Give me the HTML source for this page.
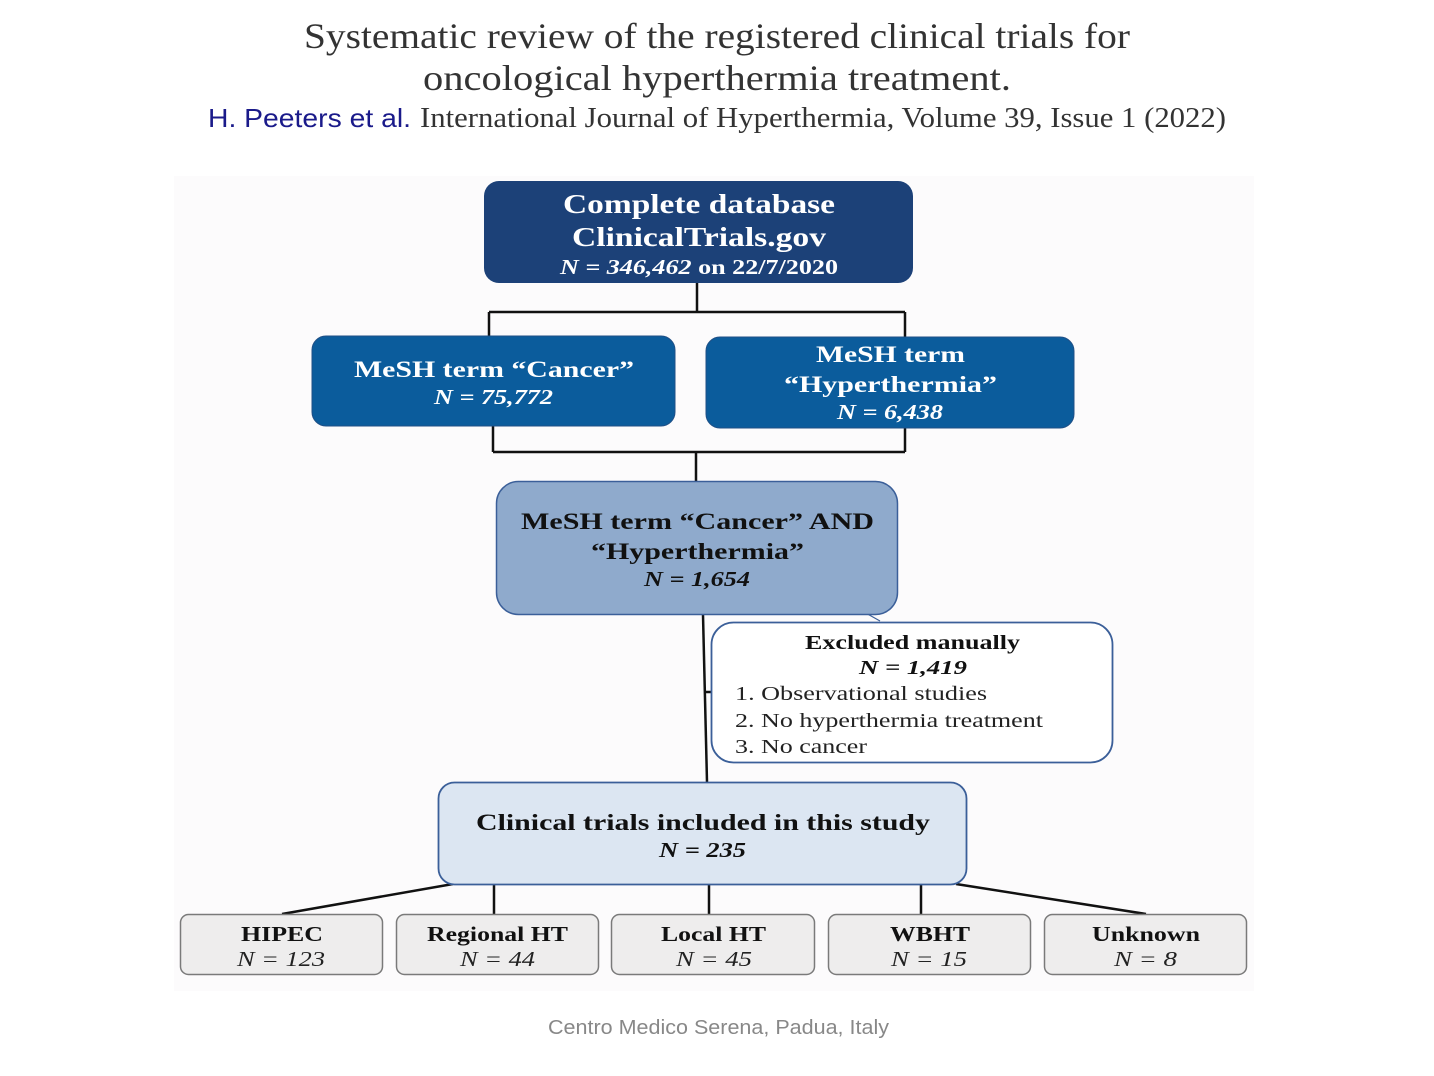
<!DOCTYPE html>
<html><head><meta charset="utf-8"><style>
html,body{margin:0;padding:0;background:#fff;}
svg{display:block;}
.t{font-family:"Liberation Serif",serif;}
.s{font-family:"Liberation Sans",sans-serif;}
</style></head><body>
<svg width="1434" height="1076" viewBox="0 0 1434 1076" xmlns="http://www.w3.org/2000/svg">
<rect x="0" y="0" width="1434" height="1076" fill="#fff"/>
<!-- title -->
<text class="t" x="304" y="48" font-size="36" fill="#333" textLength="826" lengthAdjust="spacingAndGlyphs">Systematic review of the registered clinical trials for</text>
<text class="t" x="423" y="90" font-size="36" fill="#333" textLength="588" lengthAdjust="spacingAndGlyphs">oncological hyperthermia treatment.</text>
<text class="s" x="208" y="127" font-size="26" fill="#1a1a8a" textLength="203" lengthAdjust="spacingAndGlyphs">H. Peeters et al.</text>
<text class="t" x="420" y="127" font-size="29" fill="#333" textLength="806" lengthAdjust="spacingAndGlyphs">International Journal of Hyperthermia, Volume 39, Issue 1 (2022)</text>

<rect x="174" y="176" width="1080" height="815" fill="#fcfbfc"/>

<!-- connectors -->
<g stroke="#111" stroke-width="2.5" fill="none">
<path d="M697 283 V312 M489 312 H905 M489 312 V336 M905 312 V337"/>
<path d="M493 426 V452 M905 428 V452 M493 452 H905 M696 452 V481"/>
<path d="M703 615 L707 782"/>
<path d="M706 692 H712"/>
<path d="M453 884 L282 914 M494 885 V914 M709 885 V914 M921 885 V914 M956 884 L1146 914"/>
</g>
<line x1="848" y1="603" x2="880" y2="621" stroke="#3b5f99" stroke-width="1.2"/>

<!-- boxes -->
<rect x="484" y="181" width="429" height="102" rx="15" fill="#1c4178"/>
<rect x="312" y="336" width="363" height="90" rx="14" fill="#0b5c9c" stroke="#1f4f86" stroke-width="1"/>
<rect x="706" y="337" width="368" height="91" rx="14" fill="#0b5c9c" stroke="#1f4f86" stroke-width="1"/>
<rect x="496.5" y="481.5" width="401" height="133" rx="22" fill="#8faacc" stroke="#3b5f99" stroke-width="1.5"/>
<rect x="711.5" y="622.5" width="401" height="140" rx="22" fill="#fff" stroke="#3b5f99" stroke-width="1.8"/>
<rect x="438.5" y="782.5" width="528" height="102" rx="16" fill="#dce6f2" stroke="#3b5f99" stroke-width="1.8"/>
<g fill="#eeeded" stroke="#7a7a7a" stroke-width="1.5">
<rect x="180.5" y="914.5" width="202" height="60" rx="8"/>
<rect x="396.5" y="914.5" width="202" height="60" rx="8"/>
<rect x="611.5" y="914.5" width="203" height="60" rx="8"/>
<rect x="828.5" y="914.5" width="202" height="60" rx="8"/>
<rect x="1044.5" y="914.5" width="202" height="60" rx="8"/>
</g>

<!-- box text -->
<g class="t" fill="#fff" font-weight="bold">
<text x="563" y="213" font-size="27" textLength="272" lengthAdjust="spacingAndGlyphs">Complete database</text>
<text x="572" y="246" font-size="27" textLength="254" lengthAdjust="spacingAndGlyphs">ClinicalTrials.gov</text>
<text x="560" y="274" font-size="21" textLength="278" lengthAdjust="spacingAndGlyphs"><tspan font-style="italic">N = 346,462</tspan> on 22/7/2020</text>
<text x="354" y="377" font-size="23" textLength="280" lengthAdjust="spacingAndGlyphs">MeSH term “Cancer”</text>
<text x="434" y="404" font-size="21" font-style="italic" textLength="119" lengthAdjust="spacingAndGlyphs">N = 75,772</text>
<text x="816" y="362" font-size="23" textLength="149" lengthAdjust="spacingAndGlyphs">MeSH term</text>
<text x="784" y="392" font-size="23" textLength="213" lengthAdjust="spacingAndGlyphs">“Hyperthermia”</text>
<text x="837" y="419" font-size="21" font-style="italic" textLength="106" lengthAdjust="spacingAndGlyphs">N = 6,438</text>
</g>
<g class="t" fill="#111" font-weight="bold">
<text x="521" y="529" font-size="23" textLength="353" lengthAdjust="spacingAndGlyphs">MeSH term “Cancer” AND</text>
<text x="591" y="559" font-size="23" textLength="213" lengthAdjust="spacingAndGlyphs">“Hyperthermia”</text>
<text x="644" y="586" font-size="21" font-style="italic" textLength="106" lengthAdjust="spacingAndGlyphs">N = 1,654</text>
<text x="805" y="649" font-size="20" textLength="215" lengthAdjust="spacingAndGlyphs">Excluded manually</text>
<text x="859" y="674" font-size="20" font-style="italic" textLength="108" lengthAdjust="spacingAndGlyphs">N = 1,419</text>
<text x="476" y="830" font-size="23" textLength="454" lengthAdjust="spacingAndGlyphs">Clinical trials included in this study</text>
<text x="659" y="857" font-size="21" font-style="italic" textLength="87" lengthAdjust="spacingAndGlyphs">N = 235</text>
<text x="241" y="941" font-size="21" textLength="82" lengthAdjust="spacingAndGlyphs">HIPEC</text>
<text x="427" y="941" font-size="21" textLength="141" lengthAdjust="spacingAndGlyphs">Regional HT</text>
<text x="661" y="941" font-size="21" textLength="105" lengthAdjust="spacingAndGlyphs">Local HT</text>
<text x="890" y="941" font-size="21" textLength="80" lengthAdjust="spacingAndGlyphs">WBHT</text>
<text x="1092" y="941" font-size="21" textLength="108" lengthAdjust="spacingAndGlyphs">Unknown</text>
</g>
<g class="t" fill="#222" font-size="20">
<text x="735" y="700" textLength="252" lengthAdjust="spacingAndGlyphs">1. Observational studies</text>
<text x="735" y="727" textLength="308" lengthAdjust="spacingAndGlyphs">2. No hyperthermia treatment</text>
<text x="735" y="753" textLength="132" lengthAdjust="spacingAndGlyphs">3. No cancer</text>
</g>
<g class="t" fill="#222" font-size="21" font-style="italic">
<text x="237" y="966" textLength="88" lengthAdjust="spacingAndGlyphs">N = 123</text>
<text x="460" y="966" textLength="75" lengthAdjust="spacingAndGlyphs">N = 44</text>
<text x="676" y="966" textLength="76" lengthAdjust="spacingAndGlyphs">N = 45</text>
<text x="891" y="966" textLength="76" lengthAdjust="spacingAndGlyphs">N = 15</text>
<text x="1114" y="966" textLength="63" lengthAdjust="spacingAndGlyphs">N = 8</text>
</g>

<text class="s" x="548" y="1034" font-size="20" fill="#888" textLength="341" lengthAdjust="spacingAndGlyphs">Centro Medico Serena, Padua, Italy</text>
</svg>
</body></html>
